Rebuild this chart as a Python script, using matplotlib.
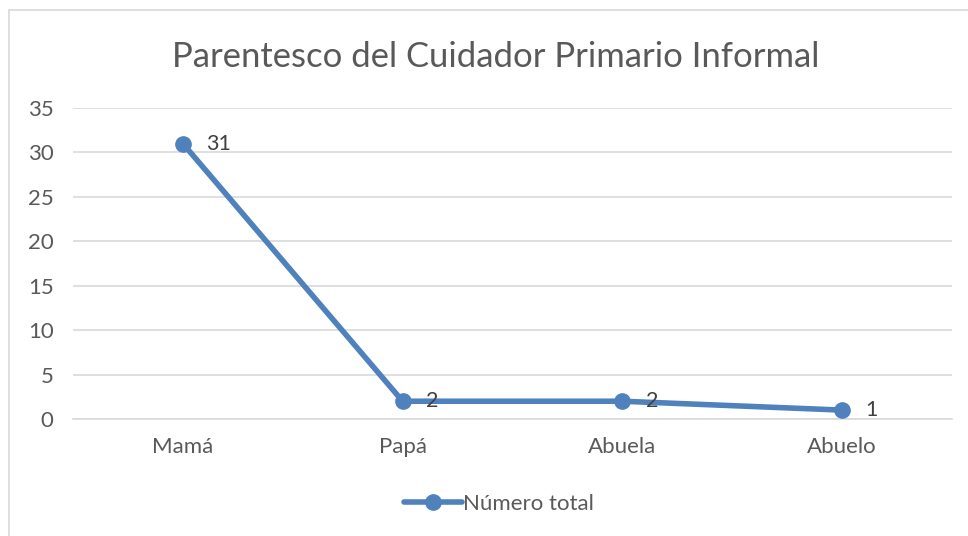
import matplotlib
matplotlib.use("Agg")
import matplotlib.pyplot as plt
from matplotlib.patches import Rectangle

categorias = ["Mamá", "Papá", "Abuela", "Abuelo"]
valores = [31, 2, 2, 1]
ticks_y = [0, 5, 10, 15, 20, 25, 30, 35]

plt.rcParams['font.family'] = ['Lato', 'DejaVu Sans']
azul = '#4F81BD'
gris_texto = '#595959'

fig = plt.figure(figsize=(9.68, 5.36), dpi=100)
fig.patch.set_facecolor('white')
# marco del grafico
fig.patches.append(Rectangle((9 / 968, -0.01), 1.0, 1 - 10 / 536 + 0.01, transform=fig.transFigure,
                             fill=False, edgecolor='#D9D9D9', linewidth=1.2))

ax = fig.add_axes([73 / 968, 1 - 419 / 536, (952 - 73) / 968, (419 - 108) / 536])
x = list(range(len(categorias)))
ax.plot(x, valores, color=azul, linewidth=4, marker='o', markersize=11,
        solid_capstyle='round', label='Número total', zorder=3)
for xi, v in zip(x, valores):
    ax.annotate(str(v), (xi, v), xytext=(17, 0), textcoords='offset points',
                va='center', ha='left', fontsize=15.5, color='#404040')

ax.set_xlim(-0.5, 3.5)
ax.set_ylim(0, 35)
ax.set_yticks(ticks_y)
ax.set_xticks(x)
ax.set_xticklabels(categorias)
ax.grid(axis='y', color='#D9D9D9', linewidth=1.2)
ax.set_axisbelow(True)
for s in ['top', 'right', 'left']:
    ax.spines[s].set_visible(False)
ax.spines['bottom'].set_color('#D9D9D9')
ax.spines['bottom'].set_linewidth(1.2)
ax.tick_params(axis='both', length=0, labelsize=16, colors=gris_texto)
ax.tick_params(axis='x', pad=13)
ax.tick_params(axis='y', pad=14)

fig.text(496 / 968, 1 - 57 / 536, "Parentesco del Cuidador Primario Informal", ha='center', va='center',
         fontsize=24.9, color=gris_texto)

leg = ax.legend(loc='center', bbox_to_anchor=(499 / 968, 1 - 504 / 536), bbox_transform=fig.transFigure,
                frameon=False, fontsize=16, handlelength=2.6, handletextpad=0.05)
for t in leg.get_texts():
    t.set_color(gris_texto)

fig.savefig("out.png", dpi=100, facecolor='white')
